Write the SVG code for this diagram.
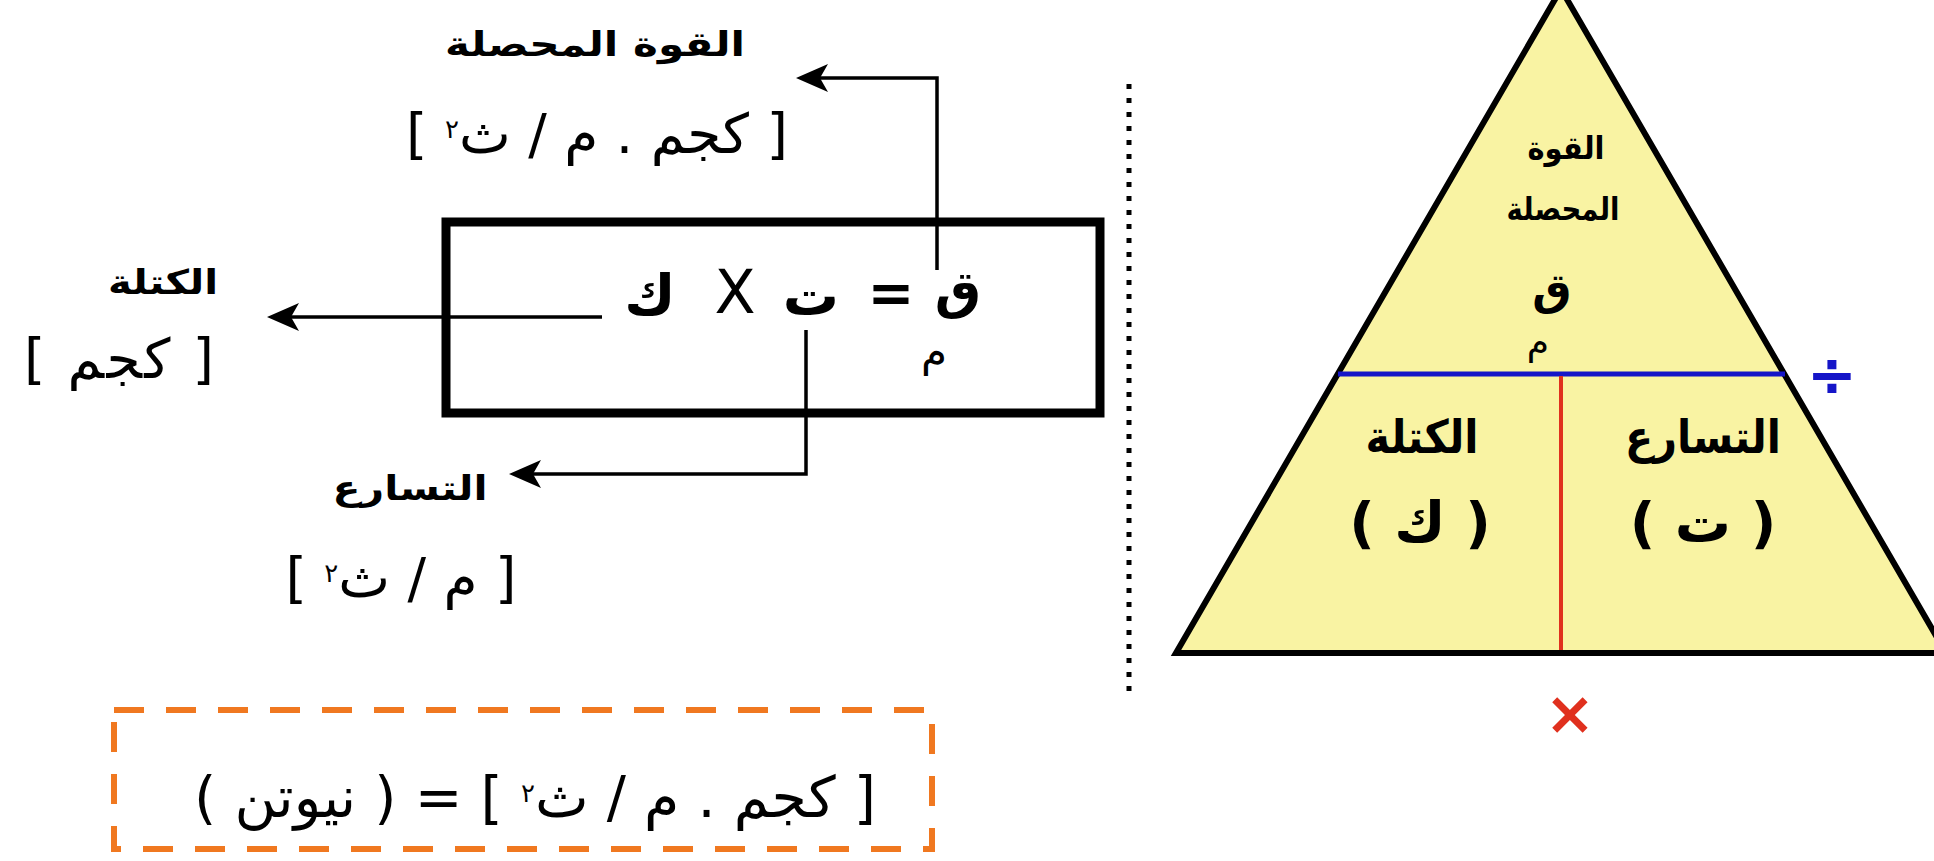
<svg xmlns="http://www.w3.org/2000/svg" width="1934" height="861" viewBox="0 0 1934 861">
<defs>
<style>
text{font-family:"DejaVu Sans","Noto Sans",sans-serif;fill:#000;text-anchor:middle;direction:rtl}
.lbl{font-size:34px;font-weight:bold}
.unit{font-size:55px}
.sup{font-size:26px}
.eq{font-size:56px;font-weight:bold}
.tri{font-weight:bold}
.conn{fill:none;stroke:#000;stroke-width:3.5}
</style>
<marker id="ah" viewBox="0 -15 32 30" refX="12" refY="0" markerWidth="32" markerHeight="30" markerUnits="userSpaceOnUse" orient="auto">
<path d="M0,-14 L32,0 L0,14 L8,0 Z" fill="#000"/>
</marker>
</defs>
<rect width="1934" height="861" fill="#fff"/>

<g id="formula-box">
<rect x="446" y="222" width="654" height="191" fill="none" stroke="#000" stroke-width="9"/>
<text class="eq" x="958" y="308" style="font-size:52px">ق</text>
<text x="934" y="366" style="font-size:42px">م</text>
<text class="eq" x="891" y="312">=</text>
<text class="eq" x="811" y="315">ت</text>
<text x="735" y="313" style="font-size:60px">X</text>
<text class="eq" x="650" y="315">ك</text>
</g>

<g id="connectors">
<path class="conn" d="M937,270 V78 H816" marker-end="url(#ah)"/>
<path class="conn" d="M602,317 H287" marker-end="url(#ah)"/>
<path class="conn" d="M806,330 V474 H529" marker-end="url(#ah)"/>
</g>

<g id="label-force">
<text class="lbl" x="595" y="56" textLength="300" lengthAdjust="spacingAndGlyphs">القوة المحصلة</text>
<text class="unit" x="597" y="153">[ كجم . م / ث<tspan class="sup" baseline-shift="super">٢</tspan> ]</text>
</g>

<g id="label-mass">
<text class="lbl" x="163" y="294" textLength="110" lengthAdjust="spacingAndGlyphs">الكتلة</text>
<text class="unit" x="119" y="378" textLength="190" lengthAdjust="spacing">[ كجم ]</text>
</g>

<g id="label-accel">
<text class="lbl" x="410" y="500" textLength="155" lengthAdjust="spacingAndGlyphs">التسارع</text>
<text class="unit" x="401" y="597">[ م / ث<tspan class="sup" baseline-shift="super">٢</tspan> ]</text>
</g>

<line x1="1129" y1="84" x2="1129" y2="694" stroke="#000" stroke-width="5" stroke-dasharray="5 9"/>

<g id="newton-box">
<rect x="114" y="710" width="818" height="139" fill="none" stroke="#F07820" stroke-width="6" stroke-dasharray="30 22"/>
<text class="unit" x="535" y="817" style="font-size:57px">[ كجم . م / ث<tspan class="sup" baseline-shift="super">٢</tspan> ] = ( نيوتن )</text>
</g>

<g id="triangle">
<polygon points="1561,-11 1176,653 1946,653" fill="#F9F3A3" stroke="#000" stroke-width="6" stroke-linejoin="miter"/>
<line x1="1338" y1="374" x2="1785" y2="374" stroke="#1515C8" stroke-width="5"/>
<line x1="1561" y1="376" x2="1561" y2="650" stroke="#E0301E" stroke-width="4"/>
<text class="tri" x="1566" y="159" style="font-size:32px" textLength="77" lengthAdjust="spacingAndGlyphs">القوة</text>
<text class="tri" x="1563" y="220" style="font-size:32px" textLength="113" lengthAdjust="spacingAndGlyphs">المحصلة</text>
<text class="tri" x="1552" y="305" style="font-size:44px">ق</text>
<text x="1538" y="354" style="font-size:36px">م</text>
<text class="tri" x="1422" y="453" style="font-size:46px" textLength="113" lengthAdjust="spacingAndGlyphs">الكتلة</text>
<text class="tri" x="1420" y="542" style="font-size:56px">( ك )</text>
<text class="tri" x="1703" y="453" style="font-size:46px" textLength="156" lengthAdjust="spacingAndGlyphs">التسارع</text>
<text class="tri" x="1703" y="542" style="font-size:56px">( ت )</text>
<text x="1832" y="396" style="font-size:60px;font-weight:bold;fill:#1515C8">÷</text>
<text x="1570" y="734" style="font-size:60px;font-weight:bold;fill:#E0301E">×</text>
</g>
</svg>
